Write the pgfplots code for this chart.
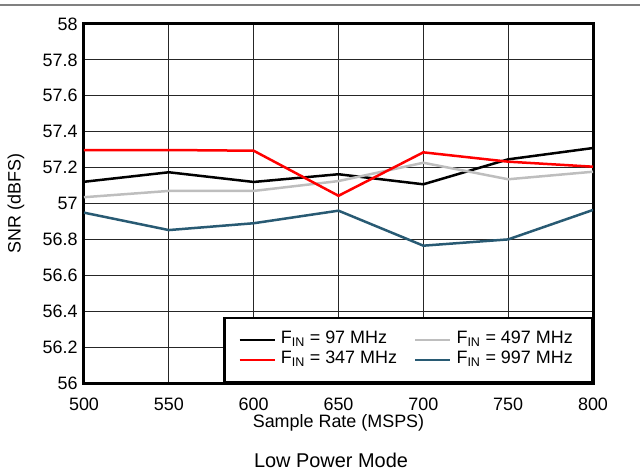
\documentclass[border=0pt]{standalone}
\usepackage{fontspec}
\setmainfont{Liberation Sans}
\usepackage{pgfplots}
\pgfplotsset{compat=1.18}
\definecolor{c97}{RGB}{0,0,0}
\definecolor{c347}{RGB}{255,0,0}
\definecolor{c497}{RGB}{190,190,190}
\definecolor{c997}{RGB}{40,90,115}
\begin{document}
\begin{tikzpicture}
\useasboundingbox (-84bp,-88bp) rectangle (556bp,383bp);
\draw[gray, line width=1.5bp] (-84bp,378bp) -- (556bp,378bp);
\begin{axis}[
  at={(0,0)}, anchor=south west,
  scale only axis, width=509bp, height=359bp,
  xmin=500, xmax=800, ymin=56, ymax=58,
  xtick={500,550,600,650,700,750,800},
  ytick={56,56.2,56.4,56.6,56.8,57,57.2,57.4,57.6,57.8,58},
  yticklabel style={/pgf/number format/fixed, /pgf/number format/precision=1, xshift=-3bp},
  xticklabel style={yshift=-11bp},
  /pgf/number format/assume math mode=true,
  tick style={draw=none},
  grid=major,
  major grid style={black!85, line width=1.2bp},
  axis line style={line width=3bp},
  ticklabel style={font=\fontsize{18}{20}\selectfont},
  label style={font=\fontsize{18}{20}\selectfont},
  xlabel={Sample Rate (MSPS)},
  ylabel={SNR (dBFS)},
  xlabel style={at={(axis description cs:0.5,-0.1114)}, anchor=center},
  ylabel style={at={(axis description cs:-0.1336,0.5)}, anchor=center},
  legend columns=2,
  legend cell align=left,
  legend image code/.code={\draw[#1] (0bp,0bp) -- (35bp,0bp);},
  legend style={at={(1,0)}, anchor=south east, draw=black, line width=2.5bp,
    font=\fontsize{18}{20}\selectfont, inner xsep=14bp, inner ysep=12bp,
    nodes={text height=12bp, text depth=4bp, inner ysep=2bp, inner xsep=5bp},
    /tikz/every even column/.append style={column sep=12bp}},
  every axis plot/.append style={line width=2.5bp},
]
\addplot[c97] coordinates {(500,57.121) (550,57.174) (600,57.12) (650,57.163) (700,57.107) (750,57.246) (800,57.309)};
\addlegendentry{F\textsubscript{IN} = 97 MHz}
\addplot[c497] coordinates {(500,57.035) (550,57.07) (600,57.07) (650,57.125) (700,57.227) (750,57.135) (800,57.177)};
\addlegendentry{F\textsubscript{IN} = 497 MHz}
\addplot[c347] coordinates {(500,57.298) (550,57.298) (600,57.294) (650,57.043) (700,57.285) (750,57.233) (800,57.205)};
\addlegendentry{F\textsubscript{IN} = 347 MHz}
\addplot[c997] coordinates {(500,56.949) (550,56.852) (600,56.89) (650,56.96) (700,56.765) (750,56.80) (800,56.964)};
\addlegendentry{F\textsubscript{IN} = 997 MHz}
\end{axis}
\node[font=\fontsize{20}{22}\selectfont] at (247bp,-77bp) {Low Power Mode};
\end{tikzpicture}
\end{document}
